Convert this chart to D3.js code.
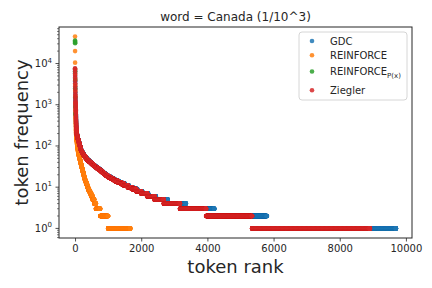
<!DOCTYPE html>
<html>
<head>
<meta charset="utf-8">
<script src="https://cdn.jsdelivr.net/npm/d3@7"></script>
<style>
  html, body { margin: 0; padding: 0; background: #fff; }
  svg { display: block; }
  text { font-family: "DejaVu Sans", sans-serif; fill: #262626; }
</style>
</head>
<body>
<svg id="chart" width="432" height="288"></svg>
<script>
// ---------------- data ----------------
const title = "word = Canada (1/10^3)";
const seriesNames = ["GDC", "REINFORCE", "REINFORCE", "Ziegler"];
const seriesSub = ["", "", "P(x)", ""];
const seriesColors = ["#1f77b4", "#ff7f0e", "#2ca02c", "#d62728"];
const xTicks = [0, 2000, 4000, 6000, 8000, 10000];
const yTickExponents = [0, 1, 2, 3, 4];

// highest-frequency tokens, listed one by one (descending)
const gdcTop = [7400, 6600, 5800, 5000, 4300, 3700, 3200, 2700, 2300, 2000, 1750, 1550, 1400, 1280, 1180, 1100, 1040, 990,
  900, 840, 780, 730, 680, 630, 590, 555, 525, 500,
  475, 445, 420, 398, 378, 358, 342, 328, 314, 302,
  292, 282, 272, 262, 252, 244, 236, 229, 222, 216, 211, 206,
  204, 202, 200, 198, 196, 194, 192, 190, 188, 186, 184, 182, 180, 178, 176, 174, 172, 170, 168, 167, 165, 164, 162, 161, 160, 159, 158, 157, 156, 155, 154, 153, 152, 151, 150,
  149, 148, 148, 147, 146, 145, 144, 144, 143, 142, 141, 140, 140, 139, 138, 137, 136, 136, 135, 134, 133, 132, 132, 131, 130,
  129, 128, 128, 127, 126, 125, 125, 124, 123, 122, 122, 121, 120, 119, 119, 118, 117, 116, 116, 115, 114, 113, 113, 112, 111,
  110, 110, 109, 108, 107, 107, 106, 105, 104, 104, 103, 102, 102, 101, 100];
const reinforceTop = [45000, 20000, 10500, 7200, 5600, 4200, 3000, 2200, 1600, 1100,
  950, 850, 760, 690, 630, 580, 530, 500,
  470, 440, 410, 380, 355, 330, 310, 292, 276, 262, 250, 240, 231, 222, 214, 207, 200,
  195, 190, 186, 182, 178, 174, 170, 166, 162, 158, 155, 152, 149, 146, 143,
  140, 138, 136, 134, 132, 130, 128, 126, 124, 122, 120, 118, 116, 114, 112, 110, 108, 106, 105, 104, 102, 100];
const reinforcePxTop = [36000, 34000, 32500, 31000, 6500, 4000, 2500, 1500, 900, 600];
const zieglerTop = [7700, 7100, 6200, 5300, 4600, 3900, 3300, 2800, 2400, 2050, 1800, 1600, 1450, 1300, 1200, 1120, 1060, 1000,
  930, 860, 800, 740, 690, 640, 600, 560, 530, 505,
  470, 440, 415, 395, 375, 355, 340, 325, 312, 300,
  290, 280, 270, 260, 250, 242, 235, 228, 221, 215, 210, 205,
  203, 201, 199, 197, 195, 193, 191, 189, 187, 185, 183, 181, 179, 177, 175, 173, 171, 169, 167, 166, 164, 163, 161, 160, 159, 158, 157, 156, 155, 154, 153, 152, 151, 151, 150,
  149, 148, 147, 147, 146, 145, 144, 143, 143, 142, 141, 140, 139, 139, 138, 137, 136, 135, 135, 134, 133, 132, 131, 131, 130,
  129, 128, 127, 127, 126, 125, 124, 124, 123, 122, 121, 121, 120, 119, 118, 118, 117, 116, 115, 115, 114, 113, 112, 112, 111,
  110, 109, 109, 108, 107, 106, 106, 105, 104, 103, 103, 102, 101, 101, 100];

// number of token types seen exactly f times, for f = 1, 2, 3, ... 99
const gdcCounts = [3900, 1590, 860, 550, 360, 230, 180, 150, 140, 120,
  115, 95, 90, 80, 70, 62, 58, 48, 47, 36,
  34, 28, 27, 25, 26, 24, 29, 28, 26, 25,
  23, 22, 22, 20, 18, 17, 16, 15, 14, 17,
  15, 15, 14, 14, 14, 13, 10, 9, 9, 9,
  9, 8, 9, 9, 7, 7, 6, 6, 6, 6,
  6, 6, 6, 5, 5, 5, 4, 4, 4, 4,
  4, 4, 4, 4, 4, 4, 4, 4, 3, 2,
  2, 2, 2, 2, 2, 2, 2, 2, 1, 2,
  1, 2, 1, 2, 1, 1, 2, 1, 2];
const reinforceCounts = [670, 240, 130, 50, 50, 40, 35, 35, 25, 20,
  15, 18, 16, 16, 11, 10, 9, 8, 7, 7,
  6, 6, 6, 5, 6, 5, 5, 5, 5, 5,
  4, 4, 4, 4, 4, 4, 3, 4, 3, 3,
  3, 3, 3, 3, 3, 3, 3, 3, 3, 3,
  3, 2, 3, 2, 3, 2, 2, 2, 2, 2,
  2, 2, 2, 2, 2, 2, 2, 1, 1, 1,
  1, 1, 1, 1, 1, 1, 1, 1, 1, 1,
  1, 1, 1, 1, 1, 1, 1, 1, 1, 1,
  1, 1, 1, 1, 0, 1, 0, 1, 0];
const reinforcePxCounts = [];
const zieglerCounts = [3560, 1390, 790, 490, 280, 220, 180, 150, 140, 120,
  110, 90, 90, 80, 70, 60, 60, 45, 45, 36,
  34, 28, 27, 25, 26, 24, 28, 27, 25, 24,
  23, 22, 21, 20, 18, 17, 16, 15, 14, 16,
  15, 15, 14, 14, 13, 13, 10, 9, 9, 9,
  8, 8, 8, 9, 7, 7, 6, 6, 6, 6,
  6, 5, 6, 5, 5, 5, 4, 4, 4, 4,
  4, 4, 4, 4, 4, 4, 4, 3, 3, 2,
  2, 2, 2, 2, 2, 2, 1, 2, 1, 2,
  1, 2, 1, 1, 2, 1, 1, 2, 1];

// ---------------- build rank / frequency points ----------------
function rankFreq(top, counts) {
  const vals = top.slice();
  for (let f = counts.length; f >= 1; f--) {
    for (let k = 0; k < counts[f - 1]; k++) vals.push(f);
  }
  return vals.map((v, i) => ({ r: i, v: v }));
}
const series = [
  rankFreq(gdcTop, gdcCounts),
  rankFreq(reinforceTop, reinforceCounts),
  rankFreq(reinforcePxTop, reinforcePxCounts),
  rankFreq(zieglerTop, zieglerCounts)
];

// ---------------- layout ----------------
const svg = d3.select("#chart");
const W = 432, H = 288;
const m = { left: 59, right: 20, top: 27, bottom: 50 };
const x0 = m.left, x1 = W - m.right, y0 = m.top, y1 = H - m.bottom;

const all = series.flat();
const rMax = d3.max(all, d => d.r), rMin = 0;
const rPad = (rMax - rMin) * 0.05;
const lMin = Math.log10(d3.min(all, d => d.v)), lMax = Math.log10(d3.max(all, d => d.v));
const lPad = (lMax - lMin) * 0.05;

const x = d3.scaleLinear().domain([rMin - rPad, rMax + rPad]).range([x0, x1]);
const y = d3.scaleLog().domain([Math.pow(10, lMin - lPad), Math.pow(10, lMax + lPad)]).range([y1, y0]);

// title
svg.append("text").attr("x", (x0 + x1) / 2).attr("y", 20.5)
  .attr("text-anchor", "middle").attr("font-size", 12).text(title);

// points
const plot = svg.append("g");
series.forEach((pts, i) => {
  plot.append("g").selectAll("circle").data(pts).join("circle")
    .attr("cx", d => x(d.r)).attr("cy", d => y(d.v)).attr("r", 2.3)
    .attr("fill", seriesColors[i]).attr("fill-opacity", 0.85);
});

// axes
const axisColor = "#262626";
const xAxis = svg.append("g").attr("transform", `translate(0,${y1})`)
  .call(d3.axisBottom(x).tickValues(xTicks).tickFormat(d3.format("d")).tickSize(3.5).tickPadding(3.5));
xAxis.select(".domain").remove();
xAxis.selectAll("text").attr("font-size", 10).attr("fill", axisColor).style("font-family", "DejaVu Sans");
xAxis.selectAll("line").attr("stroke", axisColor).attr("stroke-width", 0.8);

const [dLo, dHi] = y.domain();
const minorTicks = [];
for (let e = Math.floor(Math.log10(dLo)); e <= Math.ceil(Math.log10(dHi)); e++) {
  for (let k = 2; k <= 9; k++) {
    const t = k * Math.pow(10, e);
    if (t >= dLo && t <= dHi) minorTicks.push(t);
  }
}
const yAxis = svg.append("g").attr("transform", `translate(${x0},0)`);
yAxis.selectAll("line.minor").data(minorTicks).join("line").attr("class", "minor")
  .attr("x1", -2).attr("x2", 0).attr("y1", d => y(d)).attr("y2", d => y(d))
  .attr("stroke", axisColor).attr("stroke-width", 0.6);
const majors = yTickExponents.map(e => Math.pow(10, e));
yAxis.selectAll("line.major").data(majors).join("line").attr("class", "major")
  .attr("x1", -3.5).attr("x2", 0).attr("y1", d => y(d)).attr("y2", d => y(d))
  .attr("stroke", axisColor).attr("stroke-width", 0.8);
const yl = yAxis.selectAll("text.tl").data(yTickExponents).join("text").attr("class", "tl")
  .attr("x", -7).attr("y", e => y(Math.pow(10, e)) + 3.5)
  .attr("text-anchor", "end").attr("font-size", 10);
yl.append("tspan").text("10");
yl.append("tspan").attr("font-size", 7).attr("dy", -4.5).text(e => e);

// frame
svg.append("rect").attr("x", x0).attr("y", y0).attr("width", x1 - x0).attr("height", y1 - y0)
  .attr("fill", "none").attr("stroke", axisColor).attr("stroke-width", 1);

// axis labels
svg.append("text").attr("x", (x0 + x1) / 2).attr("y", 273)
  .attr("text-anchor", "middle").attr("font-size", 18).text("token rank");
svg.append("text").attr("transform", `translate(28,${(y0 + y1) / 2}) rotate(-90)`)
  .attr("text-anchor", "middle").attr("font-size", 18).text("token frequency");

// legend
const lg = svg.append("g");
lg.append("rect").attr("x", 299).attr("y", 32).attr("width", 108).attr("height", 68)
  .attr("rx", 3).attr("fill", "#fff").attr("fill-opacity", 0.8)
  .attr("stroke", "#cccccc").attr("stroke-width", 0.8);
const rowY = [41, 55.3, 71.5, 90.3];
seriesNames.forEach((name, i) => {
  lg.append("circle").attr("cx", 312).attr("cy", rowY[i]).attr("r", 2.3)
    .attr("fill", seriesColors[i]).attr("fill-opacity", 0.85);
  const t = lg.append("text").attr("x", 330).attr("y", rowY[i] + 3.6).attr("font-size", 10);
  t.append("tspan").text(name);
  if (seriesSub[i]) t.append("tspan").attr("font-size", 7).attr("dy", 2.5).text(seriesSub[i]);
});
</script>
</body>
</html>
